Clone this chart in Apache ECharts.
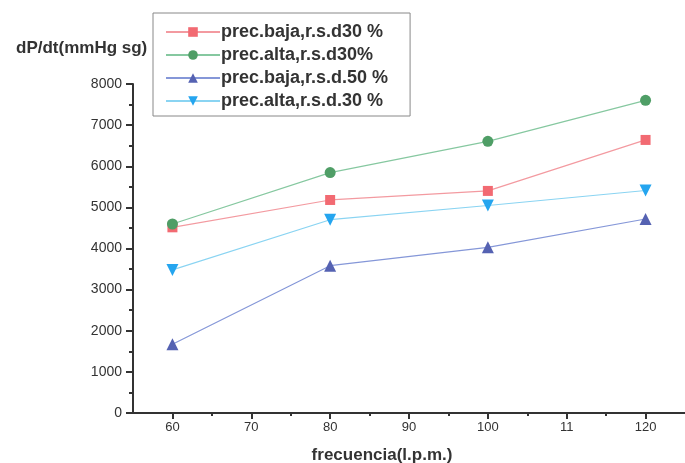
<!DOCTYPE html>
<html><head><meta charset="utf-8">
<script src="https://cdn.jsdelivr.net/npm/echarts@6/dist/echarts.min.js"></script>
<style>html,body{margin:0;padding:0;background:#fff}#c{width:685px;height:463px}</style>
</head><body><div id="c"></div>
<script>
const freq = [60, 80, 100, 120];
const bajaRsd30 = [4515, 5180, 5400, 6640];
const altaRsd30 = [4596, 5845, 6606, 7603];
const bajaRsd50 = [1670, 3582, 4029, 4717];
const altaRsd30b = [3480, 4700, 5045, 5410];
const xTickLabels = {60:'60',70:'70',80:'80',90:'90',100:'100',110:'11',120:'120'};
const seriesNames = ['prec.baja,r.s.d30 %','prec.alta,r.s.d30%','prec.baja,r.s.d.50 %','prec.alta,r.s.d.30 %'];

const pair = arr => freq.map((f,i)=>[f, arr[i]]);
const font = '"Liberation Sans", Arial, sans-serif';
const axisCol = '#333';

const chart = echarts.init(document.getElementById('c'));
chart.setOption({
  animation: false,
  title: {
    text: 'dP/dt(mmHg sg)', left: 11, top: 35,
    textStyle: {fontFamily: font, fontSize: 17, fontWeight: 'bold', color: '#333'}
  },
  legend: {
    orient: 'vertical', left: 153, top: 13,
    padding: [10, 22, 6, 12],
    borderColor: '#888', borderWidth: 1,
    itemWidth: 54, itemHeight: 12, itemGap: 5,
    textStyle: {fontFamily: font, fontSize: 18, fontWeight: 'bold', color: '#333', padding: [0,0,0,-4]},
    data: seriesNames
  },
  grid: {left: 133, right: 0, top: 84, bottom: 50, outerBoundsMode: 'none', containLabel: false},
  xAxis: [{
    type: 'value', min: 55, max: 125,
    name: 'frecuencia(l.p.m.)', nameLocation: 'middle', nameGap: 34,
    nameTextStyle: {fontFamily: font, fontSize: 17, fontWeight: 'bold', color: '#333', padding: [0, 54, 0, 0]},
    axisLine: {show: true, onZero: false, lineStyle: {color: axisCol, width: 2}},
    axisTick: {show: true, length: 6, customValues: [60,70,80,90,100,110,120], lineStyle: {color: axisCol, width: 2}},
    axisLabel: {customValues: [60,70,80,90,100,110,120], formatter: v => xTickLabels[v] || '', margin: 8,
      fontFamily: font, fontSize: 13, color: '#333'},
    splitLine: {show: false}
  }, {
    type: 'value', min: 55, max: 125, position: 'bottom',
    axisLine: {show: false},
    axisTick: {show: true, length: 3, customValues: [65,75,85,95,105,115], lineStyle: {color: axisCol, width: 2}},
    axisLabel: {show: false},
    splitLine: {show: false}
  }],
  yAxis: {
    type: 'value', min: 0, max: 8000, interval: 1000,
    axisLine: {show: true, lineStyle: {color: axisCol, width: 2}},
    axisTick: {show: true, length: 7, lineStyle: {color: axisCol, width: 2}},
    minorTick: {show: true, splitNumber: 2, length: 4, lineStyle: {color: axisCol, width: 2}},
    axisLabel: {margin: 11, fontFamily: font, fontSize: 14, color: '#333', formatter: v => String(v)},
    splitLine: {show: false}
  },
  series: [
    {name: seriesNames[0], type: 'line', data: pair(bajaRsd30), symbol: 'rect', symbolSize: 10,
     itemStyle: {color: '#f26a72'}, lineStyle: {color: '#f39aa0', width: 1.2}},
    {name: seriesNames[1], type: 'line', data: pair(altaRsd30), symbol: 'circle', symbolSize: 11,
     itemStyle: {color: '#4f9e66'}, lineStyle: {color: '#86c8a0', width: 1.2}},
    {name: seriesNames[2], type: 'line', data: pair(bajaRsd50), symbol: 'triangle', symbolSize: 12,
     itemStyle: {color: '#5562b2'}, lineStyle: {color: '#8597d8', width: 1.2}},
    {name: seriesNames[3], type: 'line', data: pair(altaRsd30b), symbol: 'triangle', symbolRotate: 180, symbolSize: 12,
     itemStyle: {color: '#25a5ef'}, lineStyle: {color: '#8ad4f2', width: 1.2}}
  ]
});
</script></body></html>
